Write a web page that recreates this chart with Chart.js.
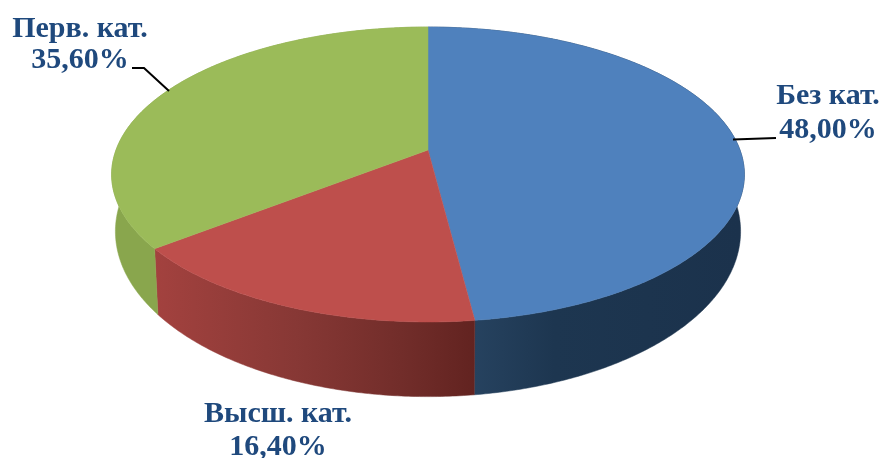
<!DOCTYPE html>
<html><head><meta charset="utf-8">
<style>html,body{margin:0;padding:0;background:#fff}#w{position:relative;width:882px;height:458px}</style>
<script src="https://cdn.jsdelivr.net/npm/chart.js@4"></script>
</head><body><div id="w"><canvas id="c" width="882" height="458"></canvas></div>
<script>
const categories = ['Без кат.', 'Высш. кат.', 'Перв. кат.'];
const shares = [48.0, 16.4, 35.6];
const shareLabels = ['48,00%', '16,40%', '35,60%'];
const topColors = ['#4f81bd', '#be4f4c', '#9bbb59'];

// Perspective of the tilted disc: unit circle -> picture
const CX = 428, AY = 150, K = 312, A = 118.5, C = -0.1661;
const DEPTH = 54, SX = 0.988, SY = 1.12;
function topPt(t) {
  const u = Math.sin(t), v = -Math.cos(t), w = 1 + C * v;
  return [CX + K * u / w, (A * v + AY) / w];
}
function botPt(t) {
  const p = topPt(t);
  return [CX + (p[0] - CX) * SX, AY + (p[1] - AY) * SY + DEPTH];
}
function wallFill(ctx, i) {
  const g = ctx.createLinearGradient(i === 0 ? 475 : 150, 0, i === 0 ? 740 : 475, 0);
  if (i === 0) { g.addColorStop(0, '#26425f'); g.addColorStop(0.3, '#1d3650'); g.addColorStop(1, '#1b324c'); }
  else if (i === 1) { g.addColorStop(0, '#a4423f'); g.addColorStop(0.45, '#873835'); g.addColorStop(0.8, '#702c29'); g.addColorStop(1, '#622320'); }
  else { return '#89a64d'; }
  return g;
}
function trace(ctx, fn, a, b, first) {
  const n = Math.ceil(Math.abs(b - a) / 0.01);
  for (let k = 0; k <= n; k++) {
    const p = fn(a + (b - a) * k / n);
    if (first && k === 0) ctx.moveTo(p[0], p[1]); else ctx.lineTo(p[0], p[1]);
  }
}
const disc3d = {
  id: 'disc3d',
  beforeDatasetDraw(chart, args) {
    const ctx = chart.ctx, arcs = args.meta.data;
    const range = arcs.map(el => {
      const q = el.getProps(['startAngle', 'endAngle'], true);
      return [q.startAngle + Math.PI / 2, q.endAngle + Math.PI / 2];
    });
    ctx.save();
    range.forEach((r, i) => {
      ctx.beginPath();
      trace(ctx, topPt, r[0], r[1], true);
      trace(ctx, botPt, r[1], r[0], false);
      ctx.closePath();
      const f = wallFill(ctx, i);
      ctx.fillStyle = f; ctx.strokeStyle = f; ctx.lineWidth = 0.5;
      ctx.fill(); ctx.stroke();
    });
    range.forEach((r, i) => {
      ctx.beginPath();
      ctx.moveTo(CX, AY);
      trace(ctx, topPt, r[0], r[1], false);
      ctx.closePath();
      ctx.fillStyle = topColors[i]; ctx.strokeStyle = topColors[i]; ctx.lineWidth = 0.5;
      ctx.fill(); ctx.stroke();
    });
    ctx.restore();
    return false;
  },
  afterDatasetsDraw(chart) {
    const ctx = chart.ctx;
    ctx.save();
    ctx.strokeStyle = '#000'; ctx.lineWidth = 2; ctx.lineJoin = 'miter';
    ctx.beginPath(); ctx.moveTo(733, 139.5); ctx.lineTo(776, 138); ctx.stroke();
    ctx.beginPath(); ctx.moveTo(132, 68); ctx.lineTo(144, 68); ctx.lineTo(169, 91); ctx.stroke();
    ctx.fillStyle = '#1f497d';
    ctx.font = 'bold 30px "Liberation Serif"';
    ctx.textAlign = 'center'; ctx.textBaseline = 'middle';
    const at = [[828, 96, 130], [278, 414, 447], [80, 29, 60]];
    categories.forEach((c, i) => {
      ctx.fillText(c, at[i][0], at[i][1]);
      ctx.fillText(shareLabels[i], at[i][0], at[i][2]);
    });
    ctx.restore();
  }
};
new Chart(document.getElementById('c'), {
  type: 'pie',
  data: { labels: categories, datasets: [{ data: shares, backgroundColor: topColors, borderWidth: 0 }] },
  options: {
    responsive: false, animation: false,
    plugins: { legend: { display: false }, tooltip: { enabled: false } }
  },
  plugins: [disc3d]
});
</script></body></html>
